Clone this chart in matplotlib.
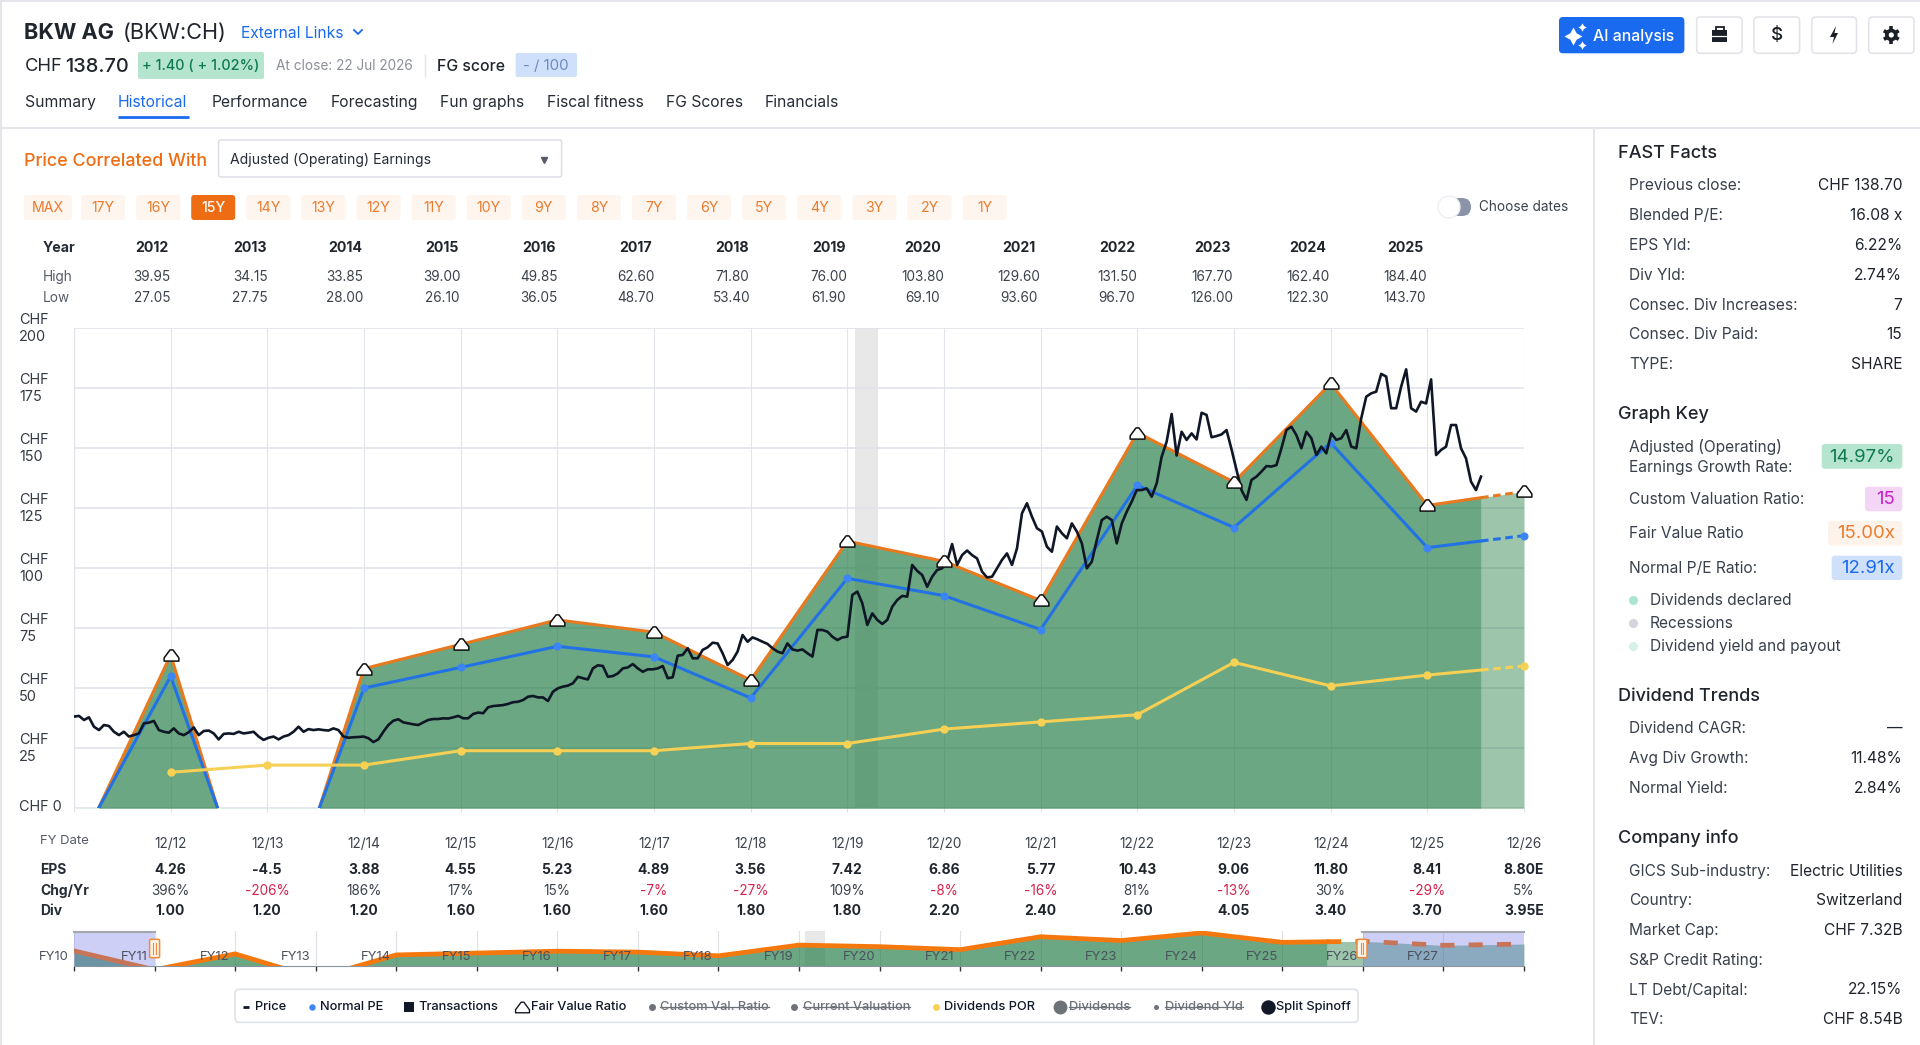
import numpy as np
import matplotlib
matplotlib.use("Agg")
import matplotlib.pyplot as plt
from matplotlib.patches import FancyBboxPatch, Circle, Rectangle, Polygon
from matplotlib.path import Path
from matplotlib.transforms import ScaledTranslation

plt.rcParams['font.family'] = ['Inter', 'DejaVu Sans']

# ---- chart data ----
years = [2011, 2012, 2013, 2014, 2015, 2016, 2017, 2018, 2019, 2020, 2021, 2022, 2023, 2024, 2025, 2026]
fy_dates = ['', '12/12', '12/13', '12/14', '12/15', '12/16', '12/17', '12/18', '12/19', '12/20', '12/21', '12/22', '12/23', '12/24', '12/25', '12/26']
fair_value = [-21.7, 63.9, -67.5, 58.2, 68.3, 78.5, 73.4, 53.4, 111.3, 102.9, 86.6, 156.5, 135.9, 177.0, 126.2, 132.0]
normal_pe = [-18.7, 55.0, -58.1, 50.1, 58.7, 67.5, 63.1, 46.0, 95.8, 88.6, 74.5, 134.6, 117.0, 152.3, 108.6, 113.6]
div_years = [2012, 2013, 2014, 2015, 2016, 2017, 2018, 2019, 2020, 2021, 2022, 2023, 2024, 2025, 2026]
div_por = [15.0, 18.0, 18.0, 24.0, 24.0, 24.0, 27.0, 27.0, 33.0, 36.0, 39.0, 60.8, 51.0, 55.5, 59.3]

# about every three weeks from the start of the window to the close
price = [
    38.2, 38.5, 36.8, 37.9, 34.0, 32.6, 34.7, 34.3, 31.9, 30.5, 31.9, 29.9, 30.5, 31.2, 35.4, 35.7,
    36.4, 32.6, 31.9, 31.5, 33.3, 31.2, 30.5, 31.7, 33.7, 30.5, 32.2, 32.4, 31.2, 28.7, 31.0, 31.2,
    31.0, 31.9, 31.2, 31.5, 31.9, 29.9, 28.5, 29.4, 29.9, 28.7, 29.9, 30.5, 31.9, 34.0, 31.9, 33.0,
    32.6, 32.9, 32.6, 32.4, 33.3, 32.6, 29.9, 29.4, 29.6, 29.7, 29.9, 29.2, 27.6, 28.7, 31.9, 34.7,
    36.5, 37.1, 35.8, 35.4, 35.0, 34.7, 35.8, 36.8, 37.2, 37.2, 37.5, 37.4, 37.9, 38.5, 37.5,
    37.5, 39.3, 39.9, 39.6, 42.1, 42.6, 42.8, 43.0, 43.5, 44.2, 44.4, 45.1, 46.5, 46.8, 46.2, 46.2,
    44.7, 48.6, 50.0, 50.7, 51.1, 52.1, 54.8, 54.2, 53.7, 58.3, 59.6, 59.3, 54.8, 55.1, 56.2, 58.3,
    58.7, 60.1, 58.3, 56.9, 57.9, 57.9, 58.3, 59.3, 54.2, 54.6, 63.6, 63.9, 66.7, 62.5, 62.5, 66.0,
    67.1, 69.0, 68.7, 64.6, 59.7, 61.8, 65.3, 72.2, 69.4, 71.2, 70.4, 69.4, 68.5, 66.7, 65.3, 64.6,
    68.7, 66.2, 65.7, 66.2, 64.6, 63.2, 74.3, 74.3, 73.6, 71.5, 70.1, 71.2, 71.5,
    88.9, 90.3, 85.4, 76.4, 81.2, 78.5, 76.8, 78.5, 84.0, 86.8, 88.5, 88.2, 101.4, 98.9, 97.2, 92.3,
    96.5, 99.3, 100.0, 102.8, 110.1, 101.4, 105.5, 107.4, 105.5, 104.1, 98.6, 96.2, 96.5, 100.0, 103.5,
    106.2, 101.4, 108.3, 122.9, 127.1, 121.5, 116.7, 115.3, 109.0, 106.9, 117.4, 114.6, 112.5, 118.7,
    115.3, 110.4, 100.0, 102.8, 111.8, 120.1, 121.5, 120.1, 110.4, 118.7, 123.6, 127.8, 132.6, 132.6,
    133.3, 129.8, 135.4, 146.5, 152.8, 164.3, 147.0, 156.9, 153.5, 156.2, 153.7, 164.8, 163.9, 154.6,
    155.1, 155.8, 157.6, 149.6, 141.0, 132.6, 128.5, 136.8, 138.2, 140.3, 142.6, 142.4, 143.0, 150.0,
    157.6, 159.0, 155.5, 150.0, 156.9, 154.2, 147.2, 150.7, 147.9, 156.2, 153.5, 154.2, 157.6, 150.7,
    150.0, 162.5, 171.5, 172.9, 173.6, 181.0, 179.9, 166.7, 166.7, 175.7, 182.9, 166.7, 165.3, 169.4,
    168.7, 178.7, 147.2, 149.3, 150.7, 159.7, 159.7, 150.0, 145.8, 136.1, 132.6, 138.2,
]
price_start = 2011.0
price_end = 2025.555
recession = (2019.08, 2019.32)

# range chart at the bottom
mini_years = [2010, 2011, 2012, 2013, 2014, 2015, 2016, 2017, 2018, 2019, 2020, 2021, 2022, 2023, 2024, 2025, 2026, 2027, 2028]
mini_value = [80.0, -21.7, 63.9, -67.5, 58.2, 68.3, 78.5, 73.4, 53.4, 111.3, 102.9, 86.6, 156.5, 135.9, 177.0, 126.2, 132.0, 110.0, 117.0]
fy_names = ['FY10', 'FY11', 'FY12', 'FY13', 'FY14', 'FY15', 'FY16', 'FY17', 'FY18', 'FY19', 'FY20', 'FY21', 'FY22', 'FY23', 'FY24', 'FY25', 'FY26', 'FY27']

# tables
table_years = ['2012', '2013', '2014', '2015', '2016', '2017', '2018', '2019', '2020', '2021', '2022', '2023', '2024', '2025']
table_x = [152, 250, 345, 442, 539, 636, 732, 829, 923, 1019, 1117, 1212, 1308, 1405]
high = ['39.95', '34.15', '33.85', '39.00', '49.85', '62.60', '71.80', '76.00', '103.80', '129.60', '131.50', '167.70', '162.40', '184.40']
low = ['27.05', '27.75', '28.00', '26.10', '36.05', '48.70', '53.40', '61.90', '69.10', '93.60', '96.70', '126.00', '122.30', '143.70']
eps = ['4.26', '-4.5', '3.88', '4.55', '5.23', '4.89', '3.56', '7.42', '6.86', '5.77', '10.43', '9.06', '11.80', '8.41', '8.80E']
chg = ['396%', '-206%', '186%', '17%', '15%', '-7%', '-27%', '109%', '-8%', '-16%', '81%', '-13%', '30%', '-29%', '5%']
divs = ['1.00', '1.20', '1.20', '1.60', '1.60', '1.60', '1.80', '1.80', '2.20', '2.40', '2.60', '4.05', '3.40', '3.70', '3.95E']
ranges = ['MAX', '17Y', '16Y', '15Y', '14Y', '13Y', '12Y', '11Y', '10Y', '9Y', '8Y', '7Y', '6Y', '5Y', '4Y', '3Y', '2Y', '1Y']
tabs = [('Summary', 24.5), ('Historical', 117.6), ('Performance', 212), ('Forecasting', 330.7), ('Fun graphs', 440), ('Fiscal fitness', 547), ('FG Scores', 665.7), ('Financials', 765)]
fast_facts = [('Previous close:', 'CHF 138.70'), ('Blended P/E:', '16.08 x'), ('EPS Yld:', '6.22%'), ('Div Yld:', '2.74%'), ('Consec. Div Increases:', '7'), ('Consec. Div Paid:', '15'), ('TYPE:', 'SHARE')]
div_trends = [('Dividend CAGR:', '—'), ('Avg Div Growth:', '11.48%'), ('Normal Yield:', '2.84%')]
company = [('GICS Sub-industry:', 'Electric Utilities'), ('Country:', 'Switzerland'), ('Market Cap:', 'CHF 7.32B'), ('S&P Credit Rating:', ''), ('LT Debt/Capital:', '22.15%'), ('TEV:', 'CHF 8.54B')]

W, H = 1920, 1045
DARK = '#262c36'
ORANGE = '#ee6c12'
BLUE = '#1a6af0'
GREEN = '#1b7940'
RED = '#d6244f'

house = Path([(-0.5, -0.38), (0.5, -0.38), (0.5, -0.16), (0.1, 0.38), (-0.1, 0.38), (-0.5, -0.16), (-0.5, -0.38)], closed=True)

fig = plt.figure(figsize=(W / 100, H / 100), dpi=100, facecolor='white')


def overlay(z):
    a = fig.add_axes([0, 0, 1, 1], zorder=z)
    a.set_xlim(0, W)
    a.set_ylim(H, 0)
    a.axis('off')
    a.patch.set_alpha(0)
    return a


def box_axes(x0, y0, x1, y1):
    return fig.add_axes([x0 / W, 1 - y1 / H, (x1 - x0) / W, (y1 - y0) / H], zorder=2)


bg = overlay(1)
top = overlay(5)


def txt(x, y, s, size=11.6, color=DARK, ha='left', weight='normal', on=None):
    return (on or bg).text(x, y, s, fontsize=size, color=color, ha=ha, va='center', fontweight=weight)


def pill(x0, y0, x1, y1, color, edge='none', r=4, on=None, lw=1, z=1):
    p = FancyBboxPatch((x0, y0), x1 - x0, y1 - y0, boxstyle='round,pad=0,rounding_size=%s' % r,
                       facecolor=color, edgecolor=edge, linewidth=lw, zorder=z)
    (on or bg).add_patch(p)
    return p


def strike(t, color):
    # strikethrough for legend entries that are switched off
    bb = t.get_window_extent(fig.canvas.get_renderer())
    y = t.get_position()[1]
    bg.plot([bb.x0, bb.x1], [y, y], color=color, lw=0.9)


# ---- page chrome ----
bg.plot([0, W], [0.5, 0.5], color='#e3e5ea', lw=1.4)
bg.plot([1, 1], [0, H], color='#e3e5ea', lw=1.4)
bg.plot([0, W], [127.5, 127.5], color='#e3e5ea', lw=1.5)
bg.plot([1594, 1594], [128, H], color='#e3e5ea', lw=1.4)

txt(24.5, 33, 'BKW AG', 15.6, '#20252d', weight='bold')
txt(122.5, 33, '(BKW:CH)', 15.6, '#20252d')
txt(240.6, 33, 'External Links', 11.2, BLUE)
bg.plot([354, 358, 362], [30, 34, 30], color=BLUE, lw=1.3)
txt(24.5, 66.5, 'CHF', 13.2, '#20252d')
txt(65.5, 66.5, '138.70', 14.4, '#20252d', weight='medium')
pill(138, 52, 264, 79, '#b5e5cf', r=2)
txt(201, 65.5, '+ 1.40 ( + 1.02%)', 10.4, '#0f7a4f', ha='center', weight='medium')
txt(275.6, 65.5, 'At close: 22 Jul 2026', 9.8, '#8a8f98')
bg.plot([425, 425], [55, 76], color='#e3e5ea', lw=1)
txt(437, 66.5, 'FG score', 11.4, '#20252d', weight='medium')
pill(515.6, 53, 577, 77, '#cfe0fb', r=2)
txt(546, 65.5, '- / 100', 10.8, '#6f89c2', ha='center')

for name, x in tabs:
    txt(x, 102.5, name, 11.3, BLUE if name == 'Historical' else DARK)
bg.plot([117.6, 189], [116.7, 116.7], color=BLUE, lw=2, solid_capstyle='butt')

# top right buttons
pill(1559, 17, 1684.4, 53.3, BLUE, r=4)
bg.plot([1573], [36], marker=(4, 1, 0), ms=13, color='white', mew=0)
bg.plot([1581.5], [27], marker=(4, 1, 0), ms=6, color='white', mew=0)
bg.plot([1581.5], [45], marker=(4, 1, 0), ms=6, color='white', mew=0)
txt(1593, 36.5, 'AI analysis', 11.4, 'white', weight='medium')
for x0, x1 in [(1696.7, 1742), (1754, 1799.6), (1811.8, 1856.5), (1868.7, 1914)]:
    pill(x0, 17, x1, 53.3, 'white', edge='#e2e4e9', r=4, lw=1.2)
bg.add_patch(Rectangle((1712, 30), 15, 12, facecolor='#1b1f27'))
bg.add_patch(Rectangle((1715.5, 26.5), 8, 4.5, facecolor='none', edgecolor='#1b1f27', lw=1.3))
bg.plot([1712, 1727], [35.5, 35.5], color='white', lw=0.9)
txt(1776.5, 35, '$', 13.5, '#1b1f27', ha='center', weight='medium')
bg.add_patch(Polygon([(1836, 26), (1830, 37), (1834, 37), (1832.5, 44), (1838, 33), (1834.5, 33)], facecolor='#1b1f27'))
# gear icon
gx, gy = 1891.3, 35
bg.add_patch(Circle((gx, gy), 6.3, facecolor='#1b1f27', edgecolor='none', zorder=2))
for a in np.arange(0, 2 * np.pi, np.pi / 3):
    bg.plot([gx, gx + 8.6 * np.cos(a + np.pi / 6)], [gy, gy + 8.6 * np.sin(a + np.pi / 6)], color='#1b1f27', lw=2.6, solid_capstyle='butt', zorder=2)
bg.add_patch(Circle((gx, gy), 2.6, facecolor='white', edgecolor='none', zorder=3))

txt(24.5, 161, 'Price Correlated With', 12.9, ORANGE, weight='medium')
pill(218.6, 140, 561.6, 177, 'white', edge='#dcdfe5', r=2, lw=1.1)
txt(229.6, 160, 'Adjusted (Operating) Earnings', 10.1, DARK)
bg.plot([544], [159.5], marker='v', ms=5, color='#555b66', ls='none')

for i, r in enumerate(ranges):
    cx = 103 + 55.1 * (i - 1) if i else 47.8
    hw = 24 if i == 0 else 22
    active = r == '15Y'
    pill(cx - hw, 195, cx + hw, 220, ORANGE if active else '#fef5ee', r=3)
    txt(cx, 208, r, 10.2, 'white' if active else '#ee7b2c', ha='center', weight='medium' if active else 'normal')

# toggle
pill(1440, 198, 1471, 216, '#8a93a8', r=9)
bg.add_patch(Circle((1449, 207), 11, facecolor='white', edgecolor='#eceef2', lw=1, zorder=2))
txt(1479, 206.7, 'Choose dates', 9.8, '#3c424c')

# high / low table
txt(58.8, 247.7, 'Year', 10.2, DARK, ha='center', weight='bold')
txt(43, 277, 'High', 9.8, '#555b66')
txt(43, 297.7, 'Low', 9.8, '#555b66')
for x, y0, h, l in zip(table_x, table_years, high, low):
    txt(x, 247.7, y0, 10.2, '#20252d', ha='center', weight='bold')
    txt(x, 277, h, 9.8, '#3c424c', ha='center')
    txt(x, 297.7, l, 9.8, '#3c424c', ha='center')

# ---- main chart ----
ax = box_axes(74, 328.3, 1524, 808.3)
ax.set_xlim(2011, 2026)
ax.set_ylim(0, 200)
for s in ax.spines.values():
    s.set_visible(False)
ax.set_axisbelow(True)
ax.set_yticks(range(0, 201, 25))
ax.set_yticklabels(['CHF 0'] + ['CHF\n%d' % v for v in range(25, 201, 25)], ha='left', fontsize=10.4, color='#333a44', linespacing=1.3)
ax.tick_params(axis='y', length=0, pad=39.5)
# labels sit a touch above their gridlines
up = ScaledTranslation(0, 2 / 72, fig.dpi_scale_trans)
for lab in ax.get_yticklabels():
    lab.set_transform(lab.get_transform() + up)
ax.set_xticks(years)
ax.set_xticklabels(fy_dates, fontsize=9.8, color='#3c424c')
ax.tick_params(axis='x', length=3, color='#dfe1e8', pad=18)
ax.grid(axis='y', color='#e0e2ea', lw=1.1)
ax.grid(axis='x', color='#e2e4ec', lw=0.8)
ax.axvline(2011, color='#e0e2ea', lw=0.9, zorder=0)
ax.axvspan(recession[0], recession[1], color='#e8e8e8', lw=0, zorder=0.5)

split_fv = np.interp(price_end, years, fair_value)
split_pe = np.interp(price_end, years, normal_pe)
split_div = np.interp(price_end, div_years, div_por)
fv_a = np.array(fair_value[:15] + [split_fv])
pe_a = np.array(normal_pe[:15] + [split_pe])
div_a = np.array(div_por[:14] + [split_div])
x_a = np.array(years[:15] + [price_end])
x_d = np.array(div_years[:14] + [price_end])

ax.fill_between(x_a, fv_a, 0, color=GREEN, alpha=0.65, lw=0, zorder=2)
ax.fill_between([price_end, 2026], [split_fv, fair_value[-1]], 0, color=GREEN, alpha=0.43, lw=0, zorder=2)

ax.plot(x_a, fv_a, color='#e8791e', lw=2.2, zorder=3)
ax.plot([price_end, 2026], [split_fv, fair_value[-1]], color='#e8791e', lw=2.2, ls=(0, (2.5, 1.5)), zorder=3)
ax.plot(x_a, pe_a, color='#2272e6', lw=2.2, zorder=3)
ax.plot([price_end, 2026], [split_pe, normal_pe[-1]], color='#2272e6', lw=2.2, ls=(0, (2.5, 1.5)), zorder=3)
ax.plot(x_d, div_a, color='#f5d055', lw=2.2, zorder=3)
ax.plot([price_end, 2026], [split_div, div_por[-1]], color='#f5d055', lw=2.2, ls=(0, (2.5, 1.5)), zorder=3)

yr = np.array(years)
pe_arr = np.array(normal_pe)
fv_arr = np.array(fair_value)
ax.plot(yr[pe_arr > 0], pe_arr[pe_arr > 0], ls='none', marker='o', ms=5.8, color='#3c85f5', mew=0, clip_on=False, zorder=4)
ax.plot(div_years, div_por, ls='none', marker='o', ms=6, color='#f7d153', mew=0, clip_on=False, zorder=4)

px = np.linspace(price_start, price_end, len(price))
ax.plot(px, price, color='#0f1626', lw=1.9, solid_joinstyle='round', zorder=5)
ax.plot(yr[fv_arr > 0], fv_arr[fv_arr > 0], ls='none', marker=house, ms=10.6, mfc='white', mec='#111111', mew=1.1, clip_on=False, zorder=6)

# ---- below the chart ----
txt(40, 840.7, 'FY Date', 9.4, '#555b66')
txt(40, 870, 'EPS', 10, '#262c36', weight='bold')
txt(40, 891, 'Chg/Yr', 10, '#262c36', weight='bold')
txt(40, 911.3, 'Div', 10, '#262c36', weight='bold')
for i in range(15):
    x = 170.4 + 96.67 * i
    txt(x, 870, eps[i], 10, '#20252d', ha='center', weight='bold')
    txt(x, 891, chg[i], 9.8, RED if chg[i].startswith('-') else '#3c424c', ha='center')
    txt(x, 911.3, divs[i], 10, '#20252d', ha='center', weight='bold')

# range selector
mini = box_axes(74, 930.7, 1524, 965.7)
mini.set_xlim(2010, 2028)
mini.set_ylim(0, 189)
mini.set_yticks([])
mini.set_xticks(mini_years)
mini.set_xticklabels([])
mini.tick_params(axis='x', length=3.6, width=1, color='#333333')
mini.grid(axis='x', color='#dfe1e6', lw=0.8)
mini.set_axisbelow(True)
for k, s in mini.spines.items():
    s.set_visible(k == 'bottom')
mini.spines['bottom'].set_color('#8c93a0')
mini.axvspan(2019.08, 2019.32, color='#e8e8e8', lw=0, zorder=0.5)
mv = np.array(mini_value)
my = np.array(mini_years)
m_split = np.interp(price_end, my, mv)
mask = my < price_end
mini.fill_between(np.r_[my[mask], price_end], np.r_[mv[mask], m_split], 0, color=GREEN, alpha=0.65, lw=0, zorder=2)
mini.fill_between(np.r_[price_end, my[~mask]], np.r_[m_split, mv[~mask]], 0, color=GREEN, alpha=0.43, lw=0, zorder=2)
mini.plot(np.r_[my[mask], price_end], np.r_[mv[mask], m_split], color='#f5780f', lw=3.4, zorder=3, solid_joinstyle='miter')
mini.plot(np.r_[price_end, my[~mask]], np.r_[m_split, mv[~mask]], color='#f5780f', lw=3.4, ls=(0, (3, 3)), zorder=3)
mini.axvspan(2010, 2011, facecolor='#6a70e8', alpha=0.33, lw=0, zorder=4)
mini.axvspan(2026, 2028, facecolor='#6a70e8', alpha=0.33, lw=0, zorder=4)
top.plot([74, 154.6], [931.5, 931.5], color='#a4a6ae', lw=1.5)
top.plot([1362, 1524], [931.5, 931.5], color='#a4a6ae', lw=1.5)
for cx in (154.6, 1362):
    pill(cx - 5, 939.3, cx + 5, 957.7, '#fff4ea', edge='#ef8a3a', r=1.5, on=top, lw=1.1, z=6)
    top.plot([cx - 1.2, cx - 1.2], [943, 954], color='#ef8a3a', lw=0.8, zorder=7)
    top.plot([cx + 1.2, cx + 1.2], [943, 954], color='#ef8a3a', lw=0.8, zorder=7)
for i, name in enumerate(fy_names):
    txt(53.6 + 80.55 * i, 956.7, name, 9.4, '#4b515c', ha='center', on=top)

# legend
pill(235, 989.3, 1358, 1022.3, 'white', edge='#dfe2e8', r=4, lw=1.2)
ly = 1007
LG = 9.25
OFF = '#6d7178'
bg.plot([243, 249], [ly, ly], color='#111827', lw=2, solid_capstyle='butt')
txt(254.6, ly, 'Price', LG, '#111827', weight='medium')
bg.plot([311.7], [ly], marker='o', ms=4.6, color='#3c85f5', mew=0)
txt(320, ly, 'Normal PE', LG, '#111827', weight='medium')
bg.plot([409], [ly], marker='s', ms=6.6, color='#111827', mew=0)
txt(418, ly, 'Transactions', LG, '#111827', weight='medium')
bg.plot([522.4], [ly], marker=house, ms=10, mfc='white', mec='#111827', mew=1)
txt(531, ly, 'Fair Value Ratio', LG, '#111827', weight='medium')
bg.plot([651.5], [ly], marker='o', ms=5, color=OFF, mew=0)
strike(txt(660, ly, 'Custom Val. Ratio', LG, OFF, weight='medium'), OFF)
bg.plot([794.3], [ly], marker='o', ms=5, color=OFF, mew=0)
strike(txt(803, ly, 'Current Valuation', LG, OFF, weight='medium'), OFF)
bg.plot([935.6], [ly], marker='o', ms=5, color='#f7d153', mew=0)
txt(943.8, ly, 'Dividends POR', LG, '#111827', weight='medium')
bg.plot([1060], [ly], marker='o', ms=10, color=OFF, mew=0)
strike(txt(1069, ly, 'Dividends', LG, OFF, weight='medium'), OFF)
bg.plot([1156], [ly], marker='o', ms=3.6, color=OFF, mew=0)
strike(txt(1164.7, ly, 'Dividend Yld', LG, OFF, weight='medium'), OFF)
bg.plot([1267.8], [ly], marker='o', ms=10.4, color='#111827', mew=0)
txt(1276, ly, 'Split Spinoff', LG, '#111827', weight='medium')

# ---- side panel ----
LBL = '#39404b'
RX = 1902.3
LX = 1629


def rows(items, ys):
    for (a, b), y in zip(items, ys):
        txt(LX, y, a, 11.2, LBL)
        if b:
            txt(RX, y, b, 11.2, '#20252d', ha='right')


txt(1617.7, 154, 'FAST Facts', 13, '#20252d', weight='medium')
rows(fast_facts, [186, 215.7, 245.3, 275, 305, 334.7, 364.7])

txt(1617.7, 414.5, 'Graph Key', 13, '#20252d', weight='medium')
txt(LX, 447, 'Adjusted (Operating)', 11.2, LBL)
txt(LX, 467.7, 'Earnings Growth Rate:', 11.2, LBL)
txt(LX, 499.5, 'Custom Valuation Ratio:', 11.2, LBL)
txt(LX, 533.8, 'Fair Value Ratio', 11.2, LBL)
txt(LX, 568.5, 'Normal P/E Ratio:', 11.2, LBL)
pill(1821.7, 444, RX, 468.7, '#b5e5cf', r=3)
txt(1895, 457, '14.97%', 13.4, '#0f7a4f', ha='right')
pill(1865, 486.7, RX, 511.3, '#f3d5f5', r=3)
txt(1895, 499.5, '15', 13.4, '#c820c8', ha='right')
pill(1828, 521, RX, 545.7, '#fef3ea', r=3)
txt(1895, 534, '15.00x', 13.4, '#ee7b2c', ha='right')
pill(1831.7, 555.7, RX, 580, '#cfe0fb', r=3)
txt(1895, 568.5, '12.91x', 13.4, BLUE, ha='right')
for y, c, s in [(600, '#a9e5cf', 'Dividends declared'), (623, '#d4d4dc', 'Recessions'), (646, '#d5f0e8', 'Dividend yield and payout')]:
    bg.plot([1633], [y], marker='o', ms=6.5, color=c, mew=0)
    txt(1649.7, y + 0.5, s, 11.2, LBL)

txt(1617.7, 696.5, 'Dividend Trends', 13, '#20252d', weight='medium')
rows(div_trends, [728.3, 758.3, 788.3])
txt(1617.7, 838.7, 'Company info', 13, '#20252d', weight='medium')
rows(company, [871.5, 900.7, 930.3, 960, 990, 1020])

fig.savefig('out.png', dpi=100)
